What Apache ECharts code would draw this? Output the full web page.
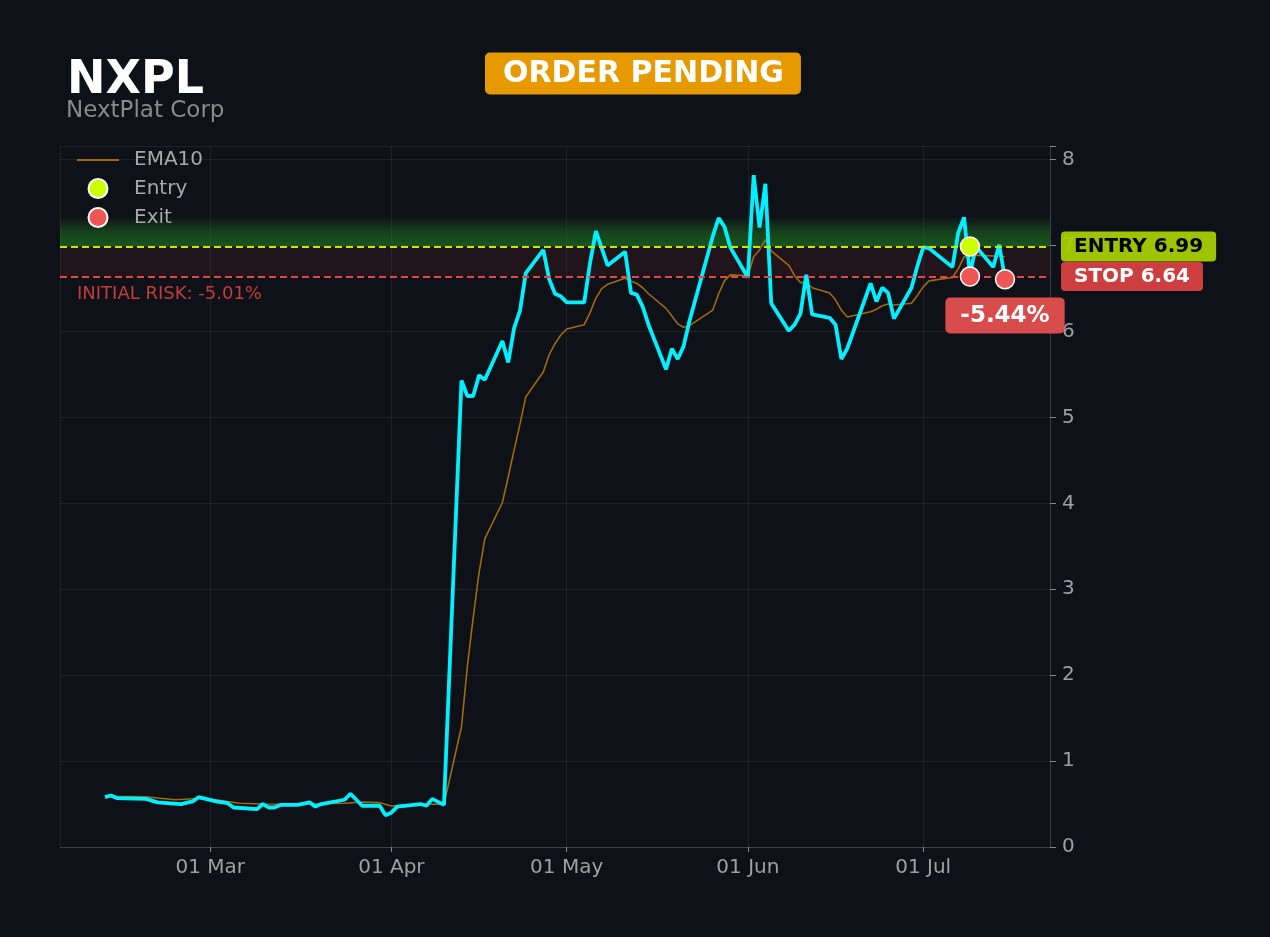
<!DOCTYPE html>
<html><head><meta charset="utf-8">
<script src="https://cdn.jsdelivr.net/npm/echarts@6/dist/echarts.min.js"></script>
<style>html,body{margin:0;padding:0;background:#0e1117;}#c{width:1270px;height:937px;}</style>
</head><body><div id="c"></div>
<script>
const ticker = 'NXPL';
const companyName = 'NextPlat Corp';
const statusText = 'ORDER PENDING';

const priceDates = ['2026-02-11','2026-02-12','2026-02-13','2026-02-18','2026-02-20','2026-02-24','2026-02-26','2026-02-27',
'2026-03-02','2026-03-04','2026-03-05','2026-03-09','2026-03-10','2026-03-11','2026-03-12','2026-03-13','2026-03-16','2026-03-18',
'2026-03-19','2026-03-20','2026-03-24','2026-03-25','2026-03-27','2026-03-30','2026-03-31','2026-04-01','2026-04-02','2026-04-06',
'2026-04-07','2026-04-08','2026-04-10','2026-04-13','2026-04-14','2026-04-15','2026-04-16','2026-04-17','2026-04-20','2026-04-21',
'2026-04-22','2026-04-23','2026-04-24','2026-04-27','2026-04-28','2026-04-29','2026-04-30','2026-05-01','2026-05-04','2026-05-05',
'2026-05-06','2026-05-08','2026-05-11','2026-05-12','2026-05-13','2026-05-14','2026-05-15','2026-05-18','2026-05-19','2026-05-20',
'2026-05-21','2026-05-22','2026-05-26','2026-05-27','2026-05-28','2026-05-29','2026-06-01','2026-06-02','2026-06-03','2026-06-04',
'2026-06-05','2026-06-08','2026-06-09','2026-06-10','2026-06-11','2026-06-12','2026-06-15','2026-06-16','2026-06-17','2026-06-18',
'2026-06-22','2026-06-23','2026-06-24','2026-06-25','2026-06-26','2026-06-29','2026-06-30','2026-07-01','2026-07-02','2026-07-06',
'2026-07-07','2026-07-08','2026-07-09','2026-07-10','2026-07-13','2026-07-14','2026-07-15'];
const priceValues = [0.58,0.60,0.57,0.56,0.52,0.50,0.53,0.58,
0.53,0.51,0.46,0.44,0.50,0.46,0.46,0.49,0.49,0.52,
0.47,0.50,0.55,0.62,0.48,0.48,0.37,0.40,0.47,0.50,
0.48,0.56,0.49,5.43,5.25,5.25,5.49,5.44,5.89,5.64,
6.04,6.24,6.68,6.95,6.61,6.44,6.41,6.34,6.34,6.80,
7.17,6.77,6.93,6.45,6.43,6.29,6.08,5.56,5.80,5.68,
5.83,6.12,7.11,7.32,7.22,6.98,6.63,7.82,7.21,7.72,
6.33,6.01,6.08,6.21,6.66,6.20,6.16,6.08,5.68,5.80,
6.56,6.35,6.51,6.45,6.15,6.51,6.76,6.98,6.97,6.75,
7.15,7.33,6.66,6.99,6.75,7.01,6.62];

const emaDates = ['2026-02-11','2026-02-13','2026-02-18','2026-02-20','2026-02-23','2026-02-27','2026-03-02','2026-03-06',
'2026-03-10','2026-03-16','2026-03-24','2026-03-27','2026-03-30','2026-04-01','2026-04-06','2026-04-10','2026-04-13','2026-04-14',
'2026-04-15','2026-04-16','2026-04-17','2026-04-20','2026-04-21','2026-04-22','2026-04-23','2026-04-24','2026-04-27','2026-04-28',
'2026-04-29','2026-04-30','2026-05-01','2026-05-04','2026-05-05','2026-05-06','2026-05-07','2026-05-08','2026-05-11','2026-05-12',
'2026-05-13','2026-05-14','2026-05-15','2026-05-18','2026-05-19','2026-05-20','2026-05-21','2026-05-22','2026-05-26','2026-05-27',
'2026-05-28','2026-05-29','2026-06-01','2026-06-02','2026-06-03','2026-06-04','2026-06-05','2026-06-08','2026-06-09','2026-06-10',
'2026-06-11','2026-06-12','2026-06-15','2026-06-16','2026-06-17','2026-06-18','2026-06-22','2026-06-23','2026-06-24','2026-06-25',
'2026-06-26','2026-06-29','2026-06-30','2026-07-01','2026-07-02','2026-07-06','2026-07-07','2026-07-08','2026-07-09','2026-07-10',
'2026-07-13','2026-07-14','2026-07-15'];
const emaValues = [0.60,0.59,0.585,0.57,0.55,0.565,0.55,0.51,
0.50,0.497,0.51,0.524,0.516,0.477,0.497,0.497,1.40,2.10,
2.67,3.19,3.59,4.01,4.31,4.62,4.92,5.24,5.53,5.73,
5.86,5.96,6.03,6.08,6.22,6.39,6.50,6.55,6.62,6.59,
6.56,6.51,6.44,6.27,6.18,6.09,6.05,6.07,6.25,6.44,
6.59,6.66,6.65,6.87,6.95,7.07,6.94,6.77,6.65,6.57,
6.57,6.51,6.45,6.37,6.25,6.17,6.23,6.26,6.30,6.32,
6.31,6.33,6.42,6.52,6.59,6.63,6.73,6.87,6.88,6.89,
6.88,6.88,6.87];

const entryPoints = [['2026-07-09', 6.99]];
const exitPoints = [['2026-07-09', 6.64], ['2026-07-15', 6.61]];
const entryPrice = 6.99;
const stopPrice = 6.64;
const targetPrice = 7.34;
const yTicks = [0, 1, 2, 3, 4, 5, 6, 7, 8];

const pct = (a, b) => ((a - b) / b * 100).toFixed(2) + '%';
const initialRisk = 'INITIAL RISK: ' + pct(stopPrice, entryPrice);
const finalResult = pct(exitPoints[exitPoints.length - 1][1], entryPrice);

const FONT = 'DejaVu Sans';
const chart = echarts.init(document.getElementById('c'));

const exitData = exitPoints.map((p, i) => i === exitPoints.length - 1 ? {
  value: p,
  label: {
    show: true, position: 'bottom', distance: 8, formatter: finalResult,
    color: '#fff', fontFamily: FONT, fontWeight: 'bold', fontSize: 23,
    backgroundColor: '#d84c4c', borderRadius: 5, padding: [7, 15, 6, 15]
  }
} : { value: p });

chart.setOption({
  backgroundColor: '#0e1117',
  animation: false,
  textStyle: { fontFamily: FONT },
  title: [
    {
      text: ticker, left: 62, top: 53,
      textStyle: { color: '#ffffff', fontSize: 46, fontWeight: 'bold', fontFamily: FONT }
    },
    {
      text: companyName, left: 61, top: 95,
      textStyle: { color: '#8a8a8a', fontSize: 23, fontWeight: 'normal', fontFamily: FONT }
    },
    {
      text: statusText, left: 485, top: 53,
      backgroundColor: '#e69a00', borderRadius: 5, padding: [7, 17, 5, 18],
      textStyle: { color: '#ffffff', fontSize: 30, fontWeight: 'bold', fontFamily: FONT, lineHeight: 29 }
    }
  ],
  legend: {
    data: [
      { name: 'EMA10', icon: 'path://M0,0 L42,0 L42,2 L0,2 Z' },
      { name: 'Entry', icon: 'circle' },
      { name: 'Exit', icon: 'circle' }
    ],
    orient: 'vertical', left: 72, top: 145,
    itemWidth: 42, itemHeight: 19, itemGap: 8,
    textStyle: { color: '#a8a8a8', fontSize: 20, fontFamily: FONT, padding: [0, 0, 0, 10] }
  },
  grid: { left: 60, right: 220, top: 146, bottom: 90 },
  xAxis: {
    type: 'time',
    min: '2026-02-03 07:12',
    max: '2026-07-22 16:48',
    splitNumber: 5,
    minInterval: 28 * 86400000,
    axisLine: { show: true, lineStyle: { color: '#3c3f46' } },
    axisTick: { show: true, length: 5, lineStyle: { color: '#8a8a8a' } },
    axisLabel: { color: '#a0a0a0', fontSize: 20, fontFamily: FONT, margin: 11, formatter: '{dd} {MMM}' },
    splitLine: { show: true, lineStyle: { color: 'rgba(255,255,255,0.07)' } }
  },
  yAxis: {
    type: 'value', position: 'right',
    min: yTicks[0], max: 8.16, interval: 1,
    axisLine: { show: true, lineStyle: { color: '#3c3f46' } },
    axisTick: { show: true, length: 6, lineStyle: { color: '#8a8a8a' } },
    axisLabel: { color: '#a0a0a0', fontSize: 20, fontFamily: FONT, margin: 12, padding: [4, 0, 0, 0],
      formatter: v => yTicks.indexOf(v) >= 0 ? String(v) : '' },
    splitLine: { show: true, lineStyle: { color: 'rgba(255,255,255,0.07)' } }
  },
  series: [
    {
      name: 'EMA10', type: 'line', symbol: 'none', z: 3,
      data: emaDates.map((d, i) => [d, emaValues[i]]),
      lineStyle: { color: '#a06a0e', width: 1.6 },
      itemStyle: { color: '#a06a0e' }
    },
    {
      name: 'Price', type: 'line', symbol: 'none', z: 4,
      data: priceDates.map((d, i) => [d, priceValues[i]]),
      lineStyle: { color: '#00f0ff', width: 3.8 },
      itemStyle: { color: '#00f0ff' },
      markArea: {
        silent: true,
        data: [
          [{ yAxis: entryPrice, itemStyle: { color: {
              type: 'linear', x: 0, y: 0, x2: 0, y2: 1,
              colorStops: [
                { offset: 0, color: 'rgba(34,139,34,0)' },
                { offset: 0.55, color: 'rgba(34,139,34,0.42)' },
                { offset: 1, color: 'rgba(34,139,34,0.55)' }
              ] } } }, { yAxis: targetPrice }],
          [{ yAxis: stopPrice, itemStyle: { color: 'rgba(210,45,60,0.1)' } }, { yAxis: entryPrice }]
        ]
      },
      markLine: {
        silent: true, symbol: 'none',
        data: [
          { yAxis: entryPrice,
            lineStyle: { color: '#c8e600', type: [7, 4], width: 2 },
            label: { show: true, position: 'end', distance: 11, formatter: 'ENTRY {c}',
              color: '#000', fontFamily: FONT, fontWeight: 'bold', fontSize: 20,
              backgroundColor: 'rgba(170,210,0,0.92)', borderRadius: 4, padding: [5, 13, 5, 13] } },
          { yAxis: stopPrice,
            lineStyle: { color: '#e04848', type: [7, 4], width: 2 },
            label: { show: true, position: 'end', distance: 11, formatter: 'STOP {c}',
              color: '#fff', fontFamily: FONT, fontWeight: 'bold', fontSize: 20,
              backgroundColor: 'rgba(215,65,65,0.95)', borderRadius: 4, padding: [5, 13, 4, 13] } },
          { yAxis: stopPrice,
            lineStyle: { color: 'rgba(0,0,0,0)', width: 0 },
            label: { show: true, position: 'insideStartBottom', distance: [17, 9], formatter: initialRisk,
              color: '#c53c3c', fontFamily: FONT, fontSize: 18 } }
        ]
      }
    },
    {
      name: 'Entry', type: 'scatter', z: 6, symbol: 'circle', symbolSize: 19,
      data: entryPoints,
      itemStyle: { color: '#ccff00', borderColor: '#ffffff', borderWidth: 1.5, opacity: 1 }
    },
    {
      name: 'Exit', type: 'scatter', z: 6, symbol: 'circle', symbolSize: 19,
      data: exitData,
      itemStyle: { color: '#f05555', borderColor: '#ffffff', borderWidth: 1.5, opacity: 1 }
    }
  ]
});
</script>
</body></html>
